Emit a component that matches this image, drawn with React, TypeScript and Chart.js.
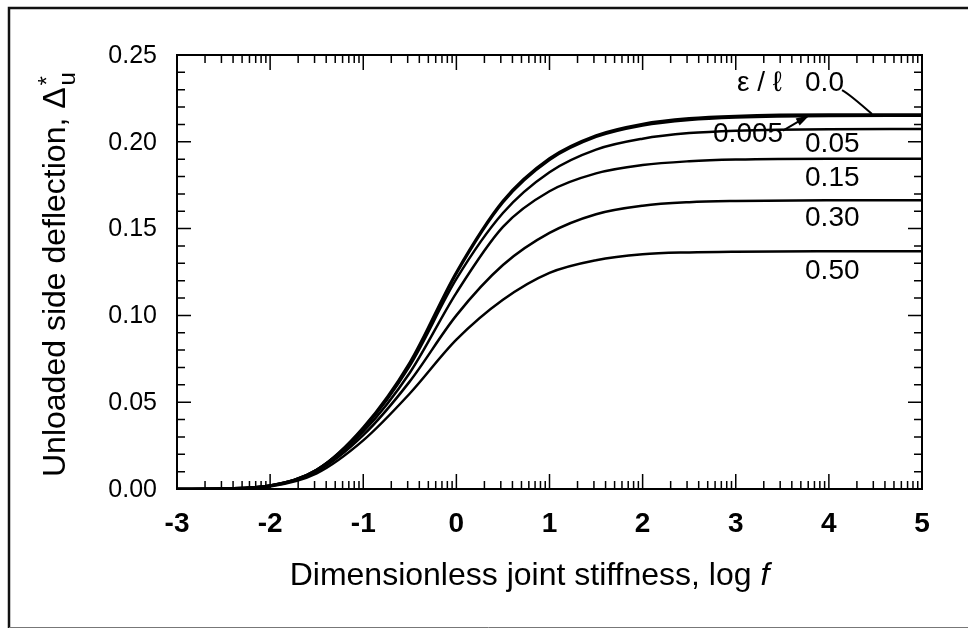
import { useEffect, useRef } from "react";
import { Chart, registerables } from "chart.js";

Chart.register(...registerables);

// log f values (x)
const logF = [-3, -2.5, -2, -1.5, -1, -0.5, 0, 0.5, 1, 1.5, 2, 2.5, 3, 4, 5];

// Unloaded side deflection for each eccentricity ratio ε/ℓ
const eps0_0 = [0.0, 0.0003, 0.002, 0.011, 0.0355, 0.073, 0.125, 0.166, 0.1905, 0.2037, 0.2103, 0.2135, 0.2149, 0.2157, 0.2157];
const eps0_005 = [0.0, 0.0003, 0.002, 0.011, 0.035, 0.0718, 0.124, 0.165, 0.1895, 0.2028, 0.2094, 0.2126, 0.214, 0.2149, 0.215];
const eps0_05 = [0.0, 0.0003, 0.002, 0.011, 0.0345, 0.071, 0.121, 0.159, 0.1825, 0.1955, 0.2018, 0.205, 0.2064, 0.2073, 0.2074];
const eps0_15 = [0.0, 0.0003, 0.0018, 0.0105, 0.033, 0.067, 0.113, 0.151, 0.1715, 0.1818, 0.1866, 0.1888, 0.1898, 0.1903, 0.1903];
const eps0_30 = [0.0, 0.0003, 0.0017, 0.01, 0.031, 0.062, 0.1, 0.129, 0.1475, 0.1583, 0.1632, 0.1652, 0.1659, 0.1663, 0.1663];
const eps0_50 = [0.0, 0.0002, 0.0015, 0.009, 0.028, 0.055, 0.086, 0.109, 0.1245, 0.1318, 0.1352, 0.1363, 0.1367, 0.1369, 0.1369];

const seriesValues = [eps0_0, eps0_005, eps0_05, eps0_15, eps0_30, eps0_50];
const seriesLabels = ["0.0", "0.005", "0.05", "0.15", "0.30", "0.50"];

const xTickLabels = ["-3", "-2", "-1", "0", "1", "2", "3", "4", "5"];
const yTickLabels = ["0.00", "0.05", "0.10", "0.15", "0.20", "0.25"];

const xTitle = "Dimensionless joint stiffness, log ";
const xTitleItalic = "f";
const yTitle = "Unloaded side deflection, Δ";
const legendTitle = "ε / ℓ";

// label anchor points (data coordinates) for the in-plot labels
const labelAnchors: Record<string, [number, number]> = {
  "0.0": [3.744, 0.2339],
  "0.005": [2.756, 0.2045],
  "0.05": [3.744, 0.1985],
  "0.15": [3.744, 0.1791],
  "0.30": [3.744, 0.1561],
  "0.50": [3.744, 0.1256],
};
const titleAnchor: [number, number] = [3.013, 0.2339];
const leader0: [number, number][] = [[4.141, 0.2298], [4.22, 0.2275], [4.463, 0.216]];
const arrow005: [number, number][] = [[3.507, 0.2065], [3.776, 0.2149]];

const FONT = '"Liberation Sans", Arial, Helvetica, sans-serif';

const decorPlugin = {
  id: "decor",
  afterDraw(chart: any) {
    const ctx: CanvasRenderingContext2D = chart.ctx;
    const xs = chart.scales.x;
    const ys = chart.scales.y;
    const { left, right, top, bottom } = chart.chartArea;
    const px = (v: number) => xs.getPixelForValue(v);
    const py = (v: number) => ys.getPixelForValue(v);
    ctx.save();

    // outer frame
    ctx.strokeStyle = "#111";
    ctx.lineWidth = 2.5;
    ctx.beginPath();
    ctx.moveTo(968, 8);
    ctx.lineTo(9, 8);
    ctx.lineTo(9, 628);
    ctx.stroke();
    ctx.lineWidth = 1;
    ctx.strokeStyle = "#777";
    ctx.beginPath();
    ctx.moveTo(9, 627.5);
    ctx.lineTo(968, 627.5);
    ctx.stroke();

    // plot border
    ctx.strokeStyle = "#000";
    ctx.lineWidth = 2;
    ctx.strokeRect(left, top, right - left, bottom - top);

    // x ticks (major + log minor), bottom and top, inward
    ctx.lineWidth = 1.5;
    ctx.beginPath();
    for (let d = -3; d <= 5; d++) {
      const x = px(d);
      ctx.moveTo(x, bottom);
      ctx.lineTo(x, bottom - 15);
      ctx.moveTo(x, top);
      ctx.lineTo(x, top + 15);
      if (d < 5) {
        for (let k = 2; k <= 9; k++) {
          const xm = px(d + Math.log10(k));
          ctx.moveTo(xm, bottom);
          ctx.lineTo(xm, bottom - 8);
          ctx.moveTo(xm, top);
          ctx.lineTo(xm, top + 8);
        }
      }
    }
    // y ticks
    for (let i = 0; i <= 25; i++) {
      const v = i / 100;
      const y = py(v);
      const len = i % 5 === 0 ? 14 : 8;
      ctx.moveTo(left, y);
      ctx.lineTo(left + len, y);
      ctx.moveTo(right, y);
      ctx.lineTo(right - len, y);
    }
    ctx.stroke();

    ctx.fillStyle = "#000";
    // x tick labels
    ctx.font = `bold 28px ${FONT}`;
    ctx.textAlign = "center";
    ctx.textBaseline = "alphabetic";
    xTickLabels.forEach((t) => {
      ctx.fillText(t, px(parseFloat(t)), bottom + 43);
    });
    // y tick labels
    ctx.font = `25px ${FONT}`;
    ctx.textAlign = "right";
    ctx.textBaseline = "middle";
    yTickLabels.forEach((t) => {
      ctx.fillText(t, left - 20, py(parseFloat(t)) + 1);
    });

    // x title
    ctx.font = `32px ${FONT}`;
    const w1 = ctx.measureText(xTitle).width;
    ctx.font = `italic 32px ${FONT}`;
    const w2 = ctx.measureText(xTitleItalic).width;
    const cx = (left + right) / 2 - 20;
    const sx = cx - (w1 + w2) / 2;
    ctx.textAlign = "left";
    ctx.textBaseline = "alphabetic";
    ctx.font = `32px ${FONT}`;
    ctx.fillText(xTitle, sx, bottom + 96);
    ctx.font = `italic 32px ${FONT}`;
    ctx.fillText(xTitleItalic, sx + w1, bottom + 96);

    // y title (rotated)
    ctx.save();
    ctx.translate(65, 477);
    ctx.rotate(-Math.PI / 2);
    ctx.font = `32px ${FONT}`;
    ctx.textAlign = "left";
    ctx.fillText(yTitle, 0, 0);
    const wy = ctx.measureText(yTitle).width;
    ctx.font = `24px ${FONT}`;
    ctx.fillText("*", wy + 2, -10);
    ctx.fillText("u", wy + 2, 10);
    ctx.restore();

    // in-plot labels
    ctx.font = `28px ${FONT}`;
    ctx.textAlign = "left";
    ctx.textBaseline = "middle";
    ctx.fillText(legendTitle, px(titleAnchor[0]), py(titleAnchor[1]));
    seriesLabels.forEach((l) => {
      const a = labelAnchors[l];
      ctx.fillText(l, px(a[0]), py(a[1]));
    });

    // leader line for 0.0
    ctx.lineWidth = 2;
    ctx.beginPath();
    ctx.moveTo(px(leader0[0][0]), py(leader0[0][1]));
    ctx.quadraticCurveTo(px(leader0[1][0]), py(leader0[1][1]), px(leader0[2][0]), py(leader0[2][1]));
    ctx.stroke();

    // arrow for 0.005
    const ax0 = px(arrow005[0][0]), ay0 = py(arrow005[0][1]);
    const ax1 = px(arrow005[1][0]), ay1 = py(arrow005[1][1]);
    ctx.beginPath();
    ctx.moveTo(ax0, ay0);
    ctx.lineTo(ax1, ay1);
    ctx.stroke();
    const ang = Math.atan2(ay1 - ay0, ax1 - ax0);
    ctx.beginPath();
    ctx.moveTo(ax1 + 2 * Math.cos(ang), ay1 + 2 * Math.sin(ang));
    ctx.lineTo(ax1 - 12 * Math.cos(ang) + 4 * Math.sin(ang), ay1 - 12 * Math.sin(ang) - 4 * Math.cos(ang));
    ctx.lineTo(ax1 - 12 * Math.cos(ang) - 4 * Math.sin(ang), ay1 - 12 * Math.sin(ang) + 4 * Math.cos(ang));
    ctx.closePath();
    ctx.fill();

    ctx.restore();
  },
};

export default function App() {
  const ref = useRef<HTMLCanvasElement | null>(null);
  useEffect(() => {
    if (!ref.current) return;
    const chart = new Chart(ref.current, {
      type: "line",
      data: {
        datasets: seriesValues.map((vals, si) => ({
          label: seriesLabels[si],
          data: logF.map((x, i) => ({ x, y: vals[i] })),
          borderColor: "#000",
          borderWidth: 2.5,
          pointRadius: 0,
          fill: false,
          cubicInterpolationMode: "monotone" as const,
        })),
      },
      options: {
        responsive: false,
        animation: false,
        layout: { padding: { left: 177, right: 46, top: 55, bottom: 139 } },
        plugins: { legend: { display: false }, tooltip: { enabled: false } },
        scales: {
          x: { type: "linear", min: -3, max: 5, display: false },
          y: { type: "linear", min: 0, max: 0.25, display: false },
        },
      },
      plugins: [decorPlugin],
    });
    return () => chart.destroy();
  }, []);
  return (
    <div style={{ position: "absolute", left: 0, top: 0, width: 968, height: 628, background: "#fff" }}>
      <canvas ref={ref} width={968} height={628} style={{ display: "block", width: 968, height: 628 }} />
    </div>
  );
}
